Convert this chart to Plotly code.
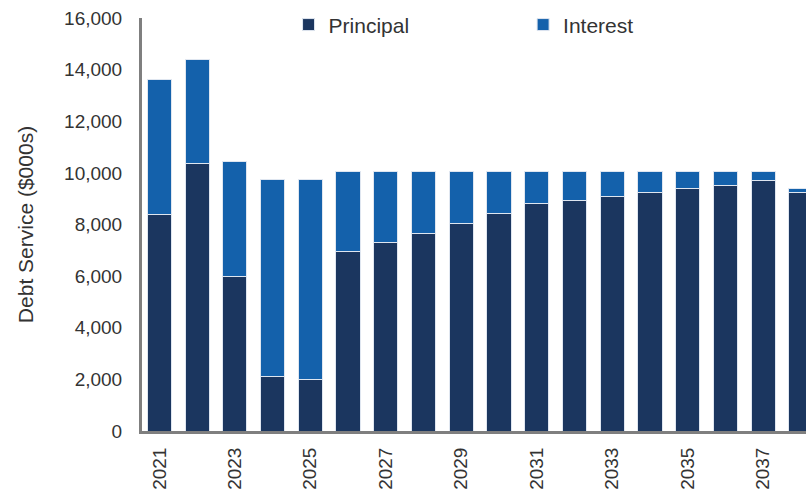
import plotly.graph_objects as go

# Annual debt service, $000s
years = [2021, 2022, 2023, 2024, 2025, 2026, 2027, 2028, 2029,
         2030, 2031, 2032, 2033, 2034, 2035, 2036, 2037, 2038]
principal = [8400, 10350, 6000, 2100, 2000, 6950, 7300, 7650, 8050,
             8420, 8820, 8940, 9100, 9240, 9380, 9530, 9720, 9240]
total = [13600, 14400, 10450, 9750, 9750, 10050, 10050, 10050, 10050,
         10050, 10050, 10050, 10050, 10050, 10050, 10050, 10050, 9390]
interest = [t - p for t, p in zip(total, principal)]

tick_years = [2021, 2023, 2025, 2027, 2029, 2031, 2033, 2035, 2037]
y_ticks = [0, 2000, 4000, 6000, 8000, 10000, 12000, 14000, 16000]

NAVY = "#1b365f"
BLUE = "#1461ab"
FONT = "Arial, Liberation Sans, sans-serif"
TEXT = "#333333"
AXIS = "#7f7f7f"

fig = go.Figure()
fig.add_trace(go.Bar(
    x=years, y=principal, name="Principal", width=0.64,
    marker=dict(color=NAVY, line=dict(color="#dfe6f0", width=1)),
    legend="legend", showlegend=True,
))
fig.add_trace(go.Bar(
    x=years, y=interest, name="Interest", width=0.64,
    marker=dict(color=BLUE, line=dict(color="#dfe6f0", width=1)),
    legend="legend2", showlegend=True,
))

legend_common = dict(
    orientation="h", xref="container", yref="container",
    xanchor="left", yanchor="top", bgcolor="rgba(0,0,0,0)",
    font=dict(family=FONT, size=21, color=TEXT),
    itemwidth=30, visible=True,
)

fig.update_layout(
    barmode="stack",
    width=806, height=491,
    margin=dict(l=142, r=0, t=18, b=60, autoexpand=False),
    paper_bgcolor="white", plot_bgcolor="white",
    font=dict(family=FONT, color=TEXT),
    showlegend=True,
    legend=dict(x=0.358, y=0.991, **legend_common),
    legend2=dict(x=0.649, y=0.991, **legend_common),
)

fig.update_xaxes(
    range=[2020.54, 2038.135],
    tickmode="array", tickvals=tick_years,
    ticktext=[str(y) for y in tick_years],
    tickangle=-90,
    tickfont=dict(family=FONT, size=19, color=TEXT),
    showgrid=False, zeroline=False,
    showline=True, linecolor=AXIS, linewidth=3,
    ticks="", ticklabelstandoff=6,
)
fig.update_yaxes(
    range=[0, 16000],
    tickmode="array", tickvals=y_ticks,
    ticktext=[f"{v:,}" for v in y_ticks],
    tickfont=dict(family=FONT, size=19, color=TEXT),
    showgrid=False, zeroline=False,
    showline=True, linecolor=AXIS, linewidth=3,
    ticks="", ticklabelstandoff=13,
    title=dict(text="Debt Service ($000s)",
               font=dict(family=FONT, size=21, color=TEXT), standoff=25),
)

fig.write_html("out.html")
